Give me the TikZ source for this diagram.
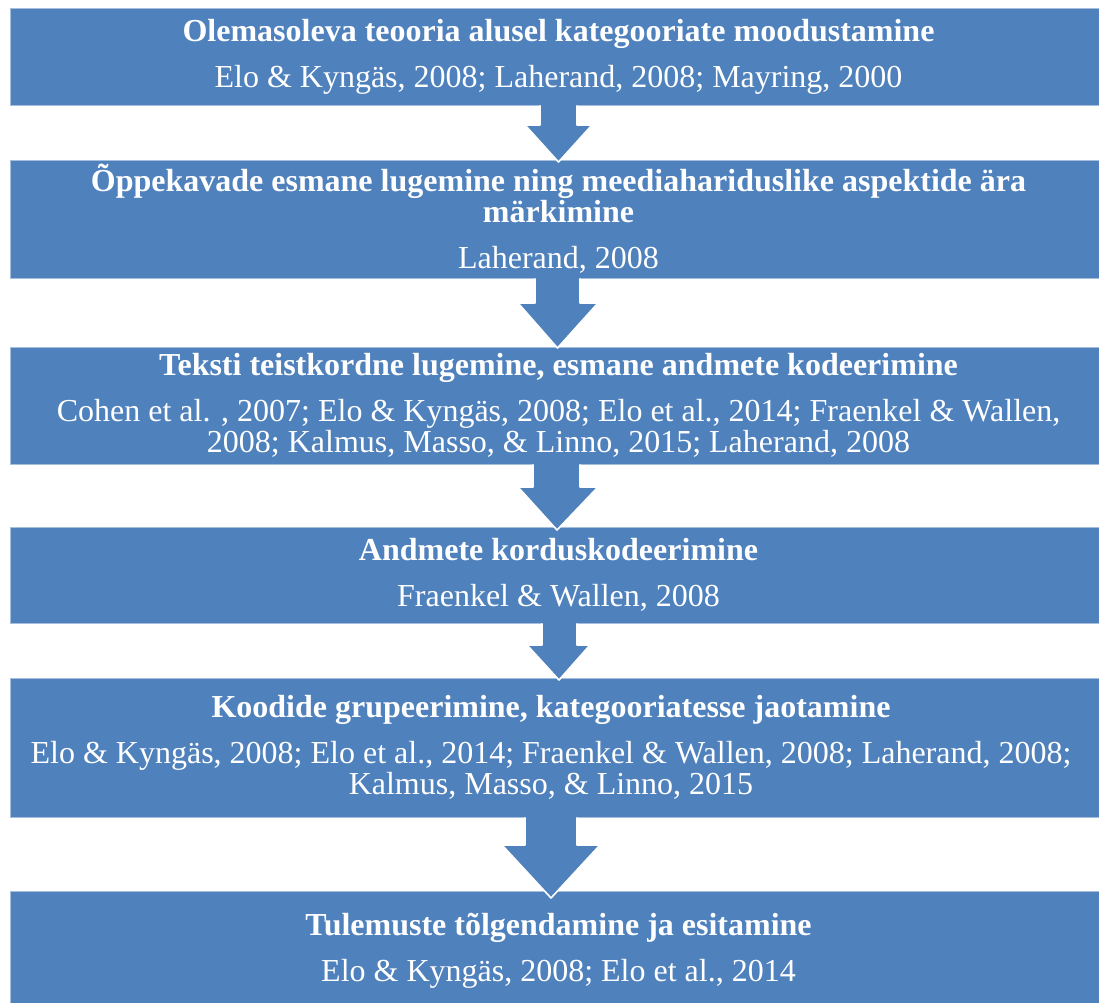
\documentclass[tikz,border=0pt]{standalone}
\usepackage{fontspec}
\setmainfont{Liberation Serif}
\usetikzlibrary{calc}
\definecolor{boxc}{RGB}{79,129,189}
\definecolor{edgec}{RGB}{165,190,222}
\begin{document}
\begin{tikzpicture}[x=1pt,y=-1pt,
  box/.style={fill=boxc, draw=edgec, line width=0.8pt, minimum width=1097pt,
    inner sep=0pt, align=center, text=white,
    font=\fontsize{32}{31}\selectfont},
  arrowedge/.style={draw=white, line width=1.6pt, line join=round}]
\useasboundingbox (0,0) rectangle (1099,1002);
\clip (0,0) rectangle (1099,1002);
\fill[white] (0,0) rectangle (1099,1002);

\node[box, minimum height=97pt] (b1) at (558.5,56.5)
  {\textbf{Olemasoleva teooria alusel kategooriate moodustamine}\\[15pt]
   Elo \& Kyngäs, 2008; Laherand, 2008; Mayring, 2000};
\node[box, minimum height=118pt] (b2) at (558.5,219)
  {\textbf{Õppekavade esmane lugemine ning meediahariduslike aspektide ära}\\
   \textbf{märkimine}\\[15pt]
   Laherand, 2008};
\node[box, minimum height=117pt] (b3) at (558.5,405.5)
  {\textbf{Teksti teistkordne lugemine, esmane andmete kodeerimine}\\[15pt]
   Cohen et al. , 2007; Elo \& Kyngäs, 2008; Elo et al., 2014; Fraenkel \& Wallen,\\
   2008; Kalmus, Masso, \& Linno, 2015; Laherand, 2008};
\node[box, minimum height=96pt] (b4) at (558.5,575)
  {\textbf{Andmete korduskodeerimine}\\[15pt]
   Fraenkel \& Wallen, 2008};
\node[box, minimum height=139pt] (b5) at (558.5,747.5)
  {\hspace*{-15pt}\textbf{Koodide grupeerimine, kategooriatesse jaotamine}\\[15pt]
   \hspace*{-15pt}Elo \& Kyngäs, 2008; Elo et al., 2014; Fraenkel \& Wallen, 2008; Laherand, 2008;\\
   \hspace*{-15pt}Kalmus, Masso, \& Linno, 2015};
\node[box, minimum height=120pt] (b6) at (558.5,951)
  {\textbf{Tulemuste tõlgendamine ja esitamine}\\[15pt]
   Elo \& Kyngäs, 2008; Elo et al., 2014};

% arrow 1
\fill[boxc] ($(540,0 |- b1.south)+(0,-2)$) -- (540,125) -- (525,125) -- (558.5,162) -- (592,125) -- (577,125) -- ($(577,0 |- b1.south)+(0,-2)$) -- cycle;
\draw[arrowedge] (540,0 |- b1.south) -- (540,125) -- (525,125) -- (558.5,162) -- (592,125) -- (577,125) -- (577,0 |- b1.south);
% arrow 2
\fill[boxc] ($(535,0 |- b2.south)+(0,-2)$) -- (535,303) -- (518,303) -- (557.5,348) -- (598,303) -- (580,303) -- ($(580,0 |- b2.south)+(0,-2)$) -- cycle;
\draw[arrowedge] (535,0 |- b2.south) -- (535,303) -- (518,303) -- (557.5,348) -- (598,303) -- (580,303) -- (580,0 |- b2.south);
% arrow 3
\fill[boxc] ($(533,0 |- b3.south)+(0,-2)$) -- (533,487) -- (518,487) -- (557,530) -- (598,487) -- (580,487) -- ($(580,0 |- b3.south)+(0,-2)$) -- cycle;
\draw[arrowedge] (533,0 |- b3.south) -- (533,487) -- (518,487) -- (557,530) -- (598,487) -- (580,487) -- (580,0 |- b3.south);
% arrow 4
\fill[boxc] ($(542,0 |- b4.south)+(0,-2)$) -- (542,645) -- (527,645) -- (559,680) -- (590,645) -- (577,645) -- ($(577,0 |- b4.south)+(0,-2)$) -- cycle;
\draw[arrowedge] (542,0 |- b4.south) -- (542,645) -- (527,645) -- (559,680) -- (590,645) -- (577,645) -- (577,0 |- b4.south);
% arrow 5
\fill[boxc] ($(525,0 |- b5.south)+(0,-2)$) -- (525,845) -- (502,845) -- (551,898) -- (600,845) -- (577,845) -- ($(577,0 |- b5.south)+(0,-2)$) -- cycle;
\draw[arrowedge] (525,0 |- b5.south) -- (525,845) -- (502,845) -- (551,898) -- (600,845) -- (577,845) -- (577,0 |- b5.south);
\end{tikzpicture}
\end{document}
